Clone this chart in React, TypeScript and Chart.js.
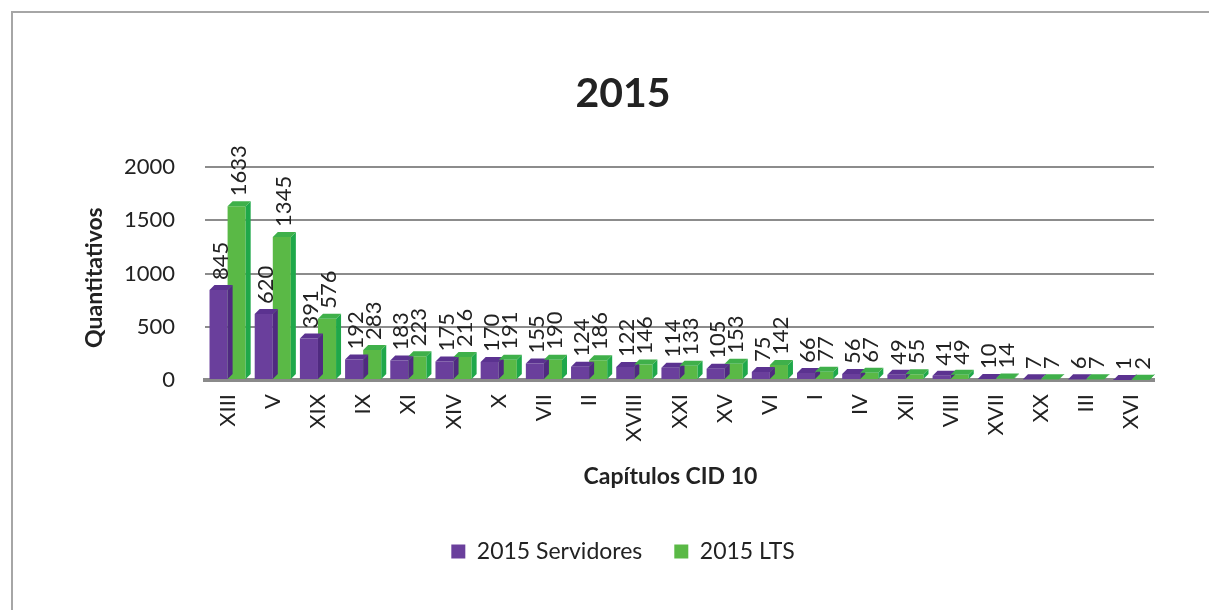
import React, { useEffect, useRef } from "react";
import { Chart, registerables } from "chart.js";

Chart.register(...registerables);

const categories = ["XIII", "V", "XIX", "IX", "XI", "XIV", "X", "VII", "II", "XVIII", "XXI", "XV", "VI", "I", "IV", "XII", "VIII", "XVII", "XX", "III", "XVI"];
const servidores = [845, 620, 391, 192, 183, 175, 170, 155, 124, 122, 114, 105, 75, 66, 56, 49, 41, 10, 7, 6, 1];
const lts = [1633, 1345, 576, 283, 223, 216, 191, 190, 186, 146, 133, 153, 142, 77, 67, 55, 49, 14, 7, 7, 2];
const yTicks = [0, 500, 1000, 1500, 2000];
const yAxisTitle = "Quantitativos";
const xAxisTitle = "Capítulos CID 10";

const FONT = "Lato, 'Open Sans', sans-serif";

const barsPlugin = {
  id: "bars3d",
  afterDatasetsDraw(chart: any) {
    const ctx = chart.ctx;
    const sides = ["#4f2a80", "#1fa84a"];
    const tops = ["#5b3290", "#3fb04a"];
    const d = 5;
    chart.data.datasets.forEach((ds: any, di: number) => {
      const meta = chart.getDatasetMeta(di);
      meta.data.forEach((bar: any) => {
        const w = bar.width;
        const l = bar.x - w / 2;
        const r = bar.x + w / 2;
        const t = bar.y;
        const b = bar.base;
        ctx.save();
        ctx.fillStyle = sides[di];
        ctx.beginPath();
        ctx.moveTo(r, b);
        ctx.lineTo(r + d, b - d);
        ctx.lineTo(r + d, t - d);
        ctx.lineTo(r, t);
        ctx.closePath();
        ctx.fill();
        ctx.fillStyle = tops[di];
        ctx.beginPath();
        ctx.moveTo(l, t);
        ctx.lineTo(l + d, t - d);
        ctx.lineTo(r + d, t - d);
        ctx.lineTo(r, t);
        ctx.closePath();
        ctx.fill();
        ctx.restore();
      });
    });
  },
};

const labelsPlugin = {
  id: "valueLabels",
  afterDraw(chart: any) {
    const ctx = chart.ctx;
    chart.data.datasets.forEach((ds: any, di: number) => {
      const meta = chart.getDatasetMeta(di);
      meta.data.forEach((bar: any, i: number) => {
        ctx.save();
        ctx.translate(bar.x + 2, bar.y - 10);
        ctx.rotate(-Math.PI / 2);
        ctx.font = `22px ${FONT}`;
        ctx.fillStyle = "#222";
        ctx.textAlign = "left";
        ctx.textBaseline = "middle";
        ctx.fillText(String(ds.data[i]), 0, 0);
        ctx.restore();
      });
    });
    const ca = chart.chartArea;
    // y axis title
    ctx.save();
    ctx.translate(95, (ca.top + ca.bottom) / 2 + 4);
    ctx.rotate(-Math.PI / 2);
    ctx.font = `bold 23px ${FONT}`;
    ctx.fillStyle = "#222";
    ctx.textAlign = "center";
    ctx.textBaseline = "middle";
    ctx.fillText(yAxisTitle, 0, 0);
    ctx.restore();
    // x axis title
    ctx.save();
    ctx.font = `bold 23px ${FONT}`;
    ctx.fillStyle = "#222";
    ctx.textAlign = "center";
    ctx.textBaseline = "middle";
    ctx.fillText(xAxisTitle, (ca.left + ca.right) / 2 - 9, ca.bottom + 97);
    ctx.restore();
  },
};

export default function App() {
  const ref = useRef<HTMLCanvasElement>(null);
  useEffect(() => {
    const chart = new Chart(ref.current as HTMLCanvasElement, {
      type: "bar",
      data: {
        labels: categories,
        datasets: [
          { label: "2015 Servidores", data: servidores, backgroundColor: "#6a3f9c", barPercentage: 1.0, categoryPercentage: 0.8 },
          { label: "2015 LTS", data: lts, backgroundColor: "#5ab946", barPercentage: 1.0, categoryPercentage: 0.8 },
        ],
      },
      options: {
        animation: false,
        responsive: false,
        layout: { padding: { top: 0, left: 92, right: 55, bottom: 37 } },
        plugins: {
          title: {
            display: true,
            text: "2015",
            color: "#222",
            font: { family: FONT, size: 41, weight: "bold" },
            padding: { top: 69, bottom: 49 },
          },
          legend: {
            position: "bottom",
            labels: {
              color: "#222",
              font: { family: FONT, size: 23 },
              boxWidth: 14,
              boxHeight: 14,
              padding: 32,
            },
          },
          tooltip: { enabled: false },
        },
        scales: {
          x: {
            grid: { display: false, drawTicks: false },
            border: { display: true, color: "#8a8a8a", width: 4 },
            ticks: {
              color: "#222",
              font: { family: FONT, size: 22 },
              minRotation: 90,
              maxRotation: 90,
              padding: 14,
              autoSkip: false,
            },
            afterFit: (s: any) => {
              s.height = 128;
            },
          },
          y: {
            min: 0,
            max: 2000,
            afterBuildTicks: (axis: any) => {
              axis.ticks = yTicks.map((v) => ({ value: v }));
            },
            grid: { color: "#8c8c8c", lineWidth: 2, drawTicks: false },
            border: { display: false },
            ticks: {
              color: "#222",
              font: { family: FONT, size: 22 },
              padding: 30,
              callback: (v: any) => String(v),
            },
            afterFit: (s: any) => {
              s.width = 113;
            },
          },
        },
      },
      plugins: [barsPlugin, labelsPlugin],
    });
    return () => chart.destroy();
  }, []);
  return (
    <div style={{ position: "fixed", left: 0, top: 0, width: 1209, height: 610, overflow: "hidden", background: "#fff" }}>
      <div style={{ position: "absolute", left: 11, top: 11, width: 1300, height: 700, border: "2px solid #a6a6a6" }} />
      <canvas ref={ref} width={1209} height={610} style={{ position: "absolute", left: 0, top: 0 }} />
    </div>
  );
}
